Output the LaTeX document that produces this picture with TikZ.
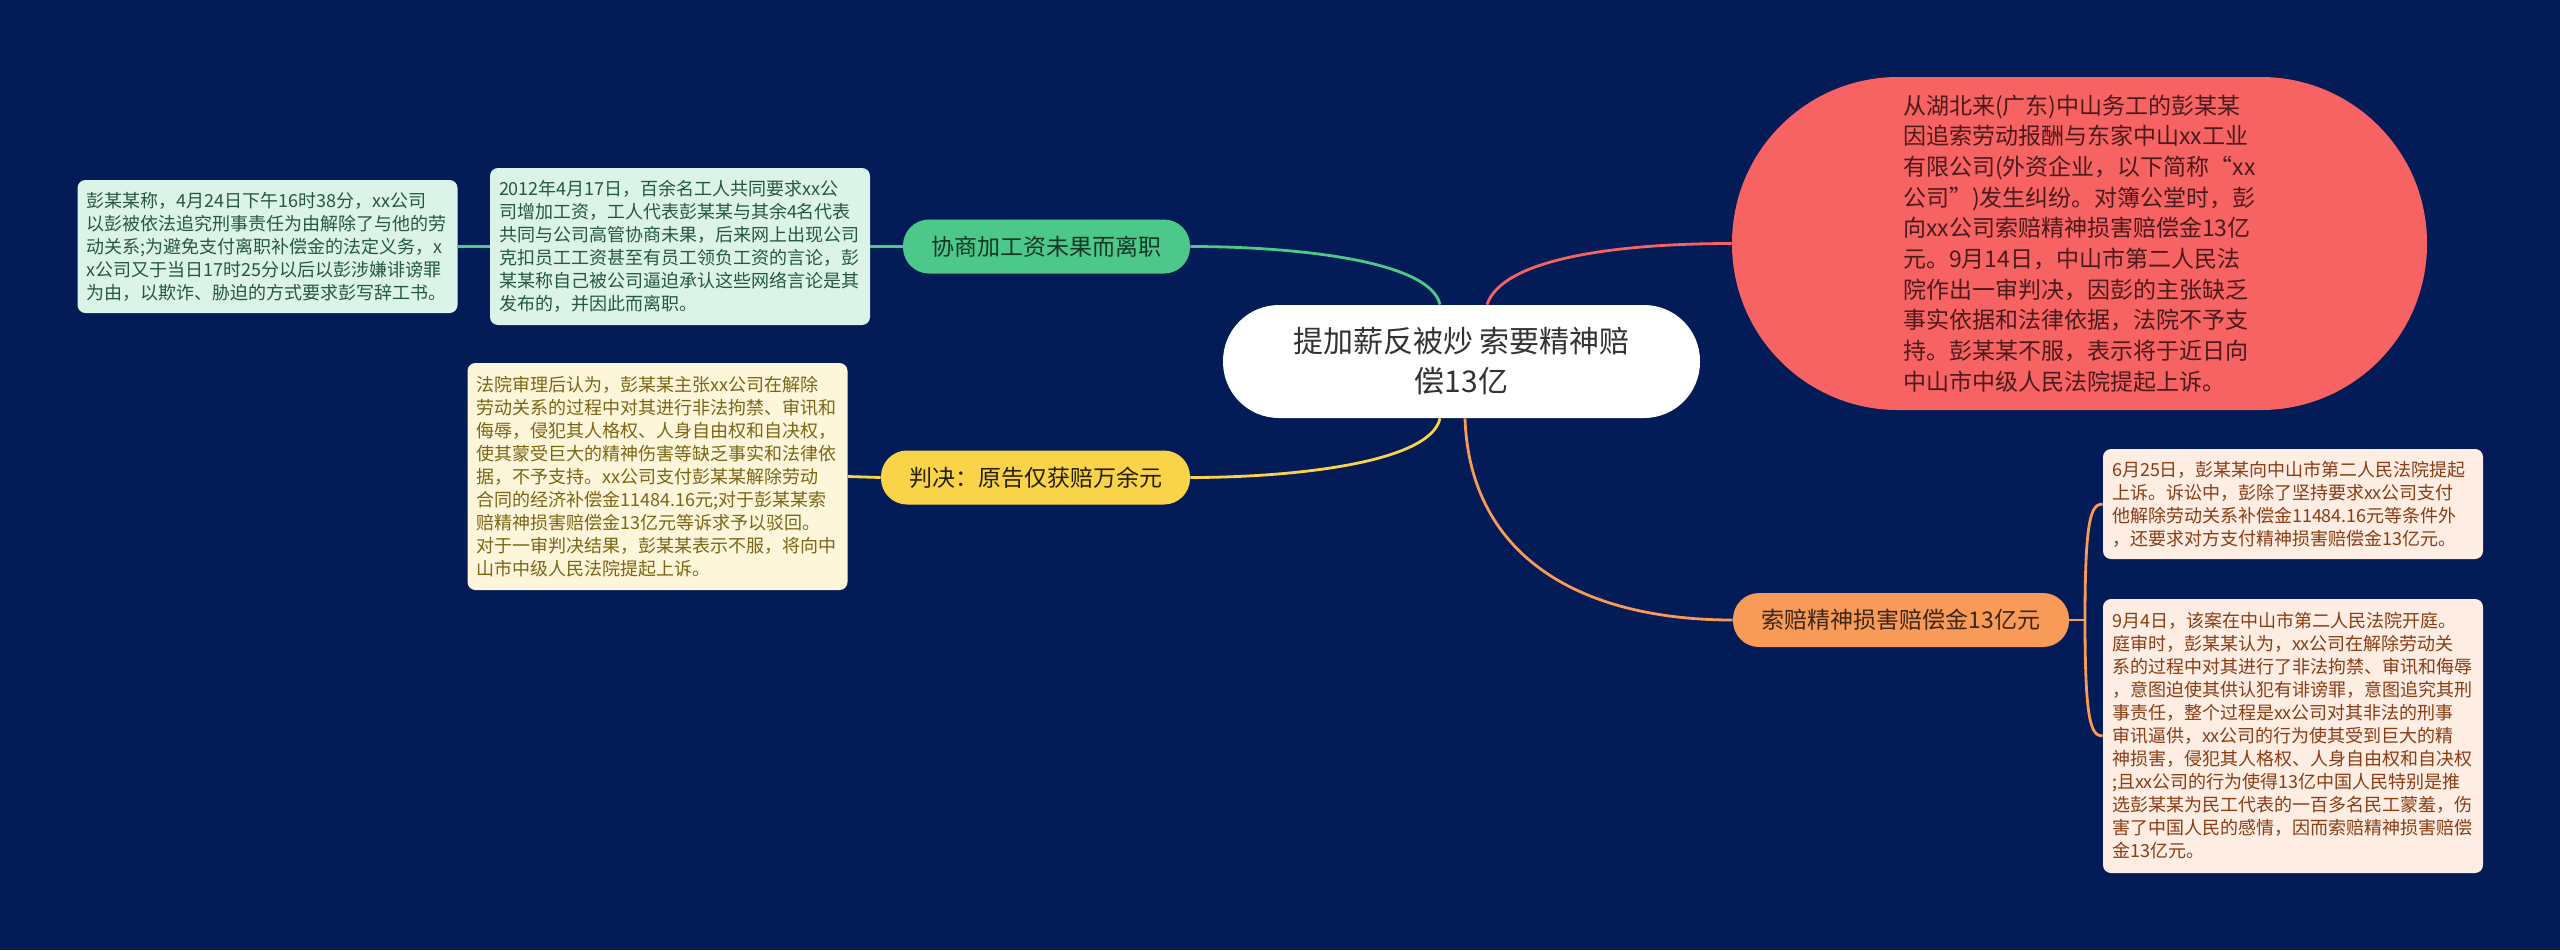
\documentclass[tikz,border=0pt]{standalone}
\usepackage{fontspec}
\usepackage{tikz}
\usetikzlibrary{positioning,calc}
\newfontfamily\cjk{Noto Sans CJK SC}
\definecolor{navy}{HTML}{031B56}
\definecolor{mint}{HTML}{4CC98A}
\definecolor{mintbg}{HTML}{DCF3E9}
\definecolor{minttext}{HTML}{25593D}
\definecolor{gold}{HTML}{F9D448}
\definecolor{goldbg}{HTML}{FEF6DA}
\definecolor{goldtext}{HTML}{7B6616}
\definecolor{coral}{HTML}{F76262}
\definecolor{coraltext}{HTML}{4A1A1C}
\definecolor{peach}{HTML}{F89A58}
\definecolor{peachbg}{HTML}{FDEDE3}
\definecolor{peachtext}{HTML}{8A3D14}

\begin{document}
\begin{tikzpicture}[x=0.5pt, y=-0.5pt,
    leafNode/.style={rectangle, rounded corners=4pt, text width=181pt, align=left, inner xsep=4.5pt, inner ysep=0pt, font=\cjk\fontsize{9}{11.5}\selectfont},
    branchNode/.style={rectangle, rounded corners=13pt, minimum height=27pt, align=center, inner xsep=0pt, font=\cjk\fontsize{11.5}{14}\selectfont},
    hubNode/.style={rectangle, rounded corners=28pt, fill=white, text=black!80, minimum width=238.5pt, minimum height=56.5pt, align=center, font=\cjk\fontsize{15}{20}\selectfont},
    storyNode/.style={rectangle, rounded corners=83pt, fill=coral, text=coraltext, minimum width=347.5pt, minimum height=166.5pt, align=left, font=\cjk\fontsize{11.5}{15.35}\selectfont},
    link/.style={line width=1.4pt}
]
    \fill[navy] (0,0) rectangle (2560,950);
    \useasboundingbox (0,0) rectangle (2560,950);

    \node[hubNode] (hub) at (1461.5,361.5) {提加薪反被炒 索要精神赔\\偿13亿};

    % left side
    \node[branchNode, fill=mint, text=minttext!60!black, minimum width=143.5pt] (talk) at (1046.5,246.5) {协商加工资未果而离职};
    \node[leafNode, fill=mintbg, text=minttext, minimum height=78.5pt] (talkA) at (680,246.5) {2012年4月17日，百余名工人共同要求xx公\\司增加工资，工人代表彭某某与其余4名代表\\共同与公司高管协商未果，后来网上出现公司\\克扣员工工资甚至有员工领负工资的言论，彭\\某某称自己被公司逼迫承认这些网络言论是其\\发布的，并因此而离职。};
    \node[leafNode, fill=mintbg, text=minttext, minimum height=66.5pt] (talkB) at (267.5,246.5) {彭某某称，4月24日下午16时38分，xx公司\\以彭被依法追究刑事责任为由解除了与他的劳\\动关系;为避免支付离职补偿金的法定义务，x\\x公司又于当日17时25分以后以彭涉嫌诽谤罪\\为由，以欺诈、胁迫的方式要求彭写辞工书。};

    \node[branchNode, fill=gold, text=gold!15!black, minimum width=154.5pt] (verdict) at (1035.5,477.5) {判决：原告仅获赔万余元};
    \node[leafNode, fill=goldbg, text=goldtext, minimum height=113.5pt] (verdictA) at (657.5,476.5) {法院审理后认为，彭某某主张xx公司在解除\\劳动关系的过程中对其进行非法拘禁、审讯和\\侮辱，侵犯其人格权、人身自由权和自决权，\\使其蒙受巨大的精神伤害等缺乏事实和法律依\\据，不予支持。xx公司支付彭某某解除劳动\\合同的经济补偿金11484.16元;对于彭某某索\\赔精神损害赔偿金13亿元等诉求予以驳回。\\对于一审判决结果，彭某某表示不服，将向中\\山市中级人民法院提起上诉。};

    % right side
    \node[storyNode] (story) at (2079.5,243.5) {从湖北来(广东)中山务工的彭某某\\因追索劳动报酬与东家中山xx工业\\有限公司(外资企业，以下简称“xx\\公司”)发生纠纷。对簿公堂时，彭\\向xx公司索赔精神损害赔偿金13亿\\元。9月14日，中山市第二人民法\\院作出一审判决，因彭的主张缺乏\\事实依据和法律依据，法院不予支\\持。彭某某不服，表示将于近日向\\中山市中级人民法院提起上诉。};

    \node[branchNode, fill=peach, text=peach!25!black, minimum width=168pt] (claim) at (1901,620) {索赔精神损害赔偿金13亿元};
    \node[leafNode, fill=peachbg, text=peachtext, minimum height=55pt] (claimA) at (2293,504) {6月25日，彭某某向中山市第二人民法院提起\\上诉。诉讼中，彭除了坚持要求xx公司支付\\他解除劳动关系补偿金11484.16元等条件外\\，还要求对方支付精神损害赔偿金13亿元。};
    \node[leafNode, fill=peachbg, text=peachtext, minimum height=137pt] (claimB) at (2293,736) {9月4日，该案在中山市第二人民法院开庭。\\庭审时，彭某某认为，xx公司在解除劳动关\\系的过程中对其进行了非法拘禁、审讯和侮辱\\，意图迫使其供认犯有诽谤罪，意图追究其刑\\事责任，整个过程是xx公司对其非法的刑事\\审讯逼供，xx公司的行为使其受到巨大的精\\神损害，侵犯其人格权、人身自由权和自决权\\;且xx公司的行为使得13亿中国人民特别是推\\选彭某某为民工代表的一百多名民工蒙羞，伤\\害了中国人民的感情，因而索赔精神损害赔偿\\金13亿元。};
    \coordinate (fork) at (2085,620);

    \draw[link, mint] ([xshift=-10.75pt]hub.north) .. controls +(-10,-45) and +(100,0) .. (talk.east);
    \draw[link, mint] (talk.west) -- (talkA.east);
    \draw[link, mint] (talkA.west) -- (talkB.east);
    \draw[link, gold] ([xshift=-10.75pt]hub.south) .. controls +(-10,45) and +(100,0) .. (verdict.east);
    \draw[link, gold] (verdict.west) -- (verdictA.east);
    \draw[link, coral] ([xshift=12.75pt]hub.north) .. controls +(15,-45) and +(-120,0) .. (story.west);
    \draw[link, peach] ([xshift=1.75pt]hub.south) .. controls +(5,140) and +(-150,0) .. (claim.west);
    \draw[link, peach] (claim.east) -- (fork);
    \draw[link, peach] (fork) .. controls +(0,-100) and +(-12,0) .. (claimA.west);
    \draw[link, peach] (fork) .. controls +(0,100) and +(-12,0) .. (claimB.west);
\end{tikzpicture}
\end{document}
